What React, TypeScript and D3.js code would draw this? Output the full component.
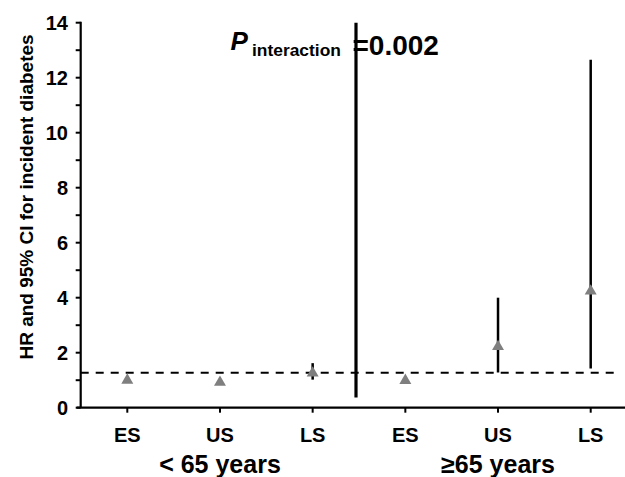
import React from "react";
import * as d3 from "d3";

const categories = ["ES", "US", "LS", "ES", "US", "LS"];
const groups = ["< 65 years", "≥65 years"];
const hr = [1.0, 0.92, 1.26, 0.99, 2.22, 4.24];
const ciLower = [0.95, 0.88, 1.02, 0.94, 1.28, 1.43];
const ciUpper = [1.05, 0.97, 1.62, 1.04, 4.0, 12.65];
const refLine = 1.27;
const yTicks = [0, 2, 4, 6, 8, 10, 12, 14];
const yMinorTicks = [1, 3, 5, 7, 9, 11, 13];
const separatorRange = [0.37, 14];

const W = 625;
const H = 477;
const FONT = "'Liberation Sans', Arial, Helvetica, sans-serif";

export default function App() {
  const idx = categories.map((_, i) => i);
  const x = d3.scalePoint<number>().domain(idx).range([127.3, 590.7]);
  const y = d3.scaleLinear().domain([0, 14]).range([407.7, 22.7]);
  const axisX = 80.7;
  const sepX = ((x(2) as number) + (x(3) as number)) / 2 - 3;
  const tri = d3.symbol().type(d3.symbolTriangle).size(62)();

  return (
    <svg width={W} height={H} style={{ position: "absolute", left: 0, top: 0, background: "#fff" }} fontFamily={FONT}>
      {/* reference dashed line */}
      <line x1={axisX} x2={620} y1={y(refLine)} y2={y(refLine)} stroke="#000" strokeWidth={2} strokeDasharray="8,7" />

      {/* y axis */}
      <line x1={axisX} x2={axisX} y1={y(14) - 1} y2={y(0)} stroke="#000" strokeWidth={2.2} />
      {yTicks.map((t) => (
        <g key={"t" + t}>
          <line x1={axisX - 5} x2={axisX} y1={y(t)} y2={y(t)} stroke="#000" strokeWidth={2} />
          <text x={68} y={y(t)} dy="0.36em" textAnchor="end" fontSize={20} fontWeight="bold">
            {t}
          </text>
        </g>
      ))}
      {yMinorTicks.map((t) => (
        <line key={"m" + t} x1={axisX - 5} x2={axisX} y1={y(t)} y2={y(t)} stroke="#000" strokeWidth={2} />
      ))}
      <text
        transform={`translate(33,197) rotate(-90)`}
        textAnchor="middle"
        fontSize={19}
        fontWeight="bold"
      >
        HR and 95% CI for incident diabetes
      </text>

      {/* x axis */}
      <line x1={axisX - 4} x2={625} y1={y(0)} y2={y(0)} stroke="#000" strokeWidth={2.2} />
      {idx.map((i) => (
        <g key={"x" + i}>
          <line x1={x(i)} x2={x(i)} y1={y(0)} y2={y(0) + 5} stroke="#000" strokeWidth={2} />
          <text x={x(i)} y={441.7} textAnchor="middle" fontSize={20} fontWeight="bold">
            {categories[i]}
          </text>
        </g>
      ))}
      {groups.map((g, gi) => (
        <text key={g} x={x(gi * 3 + 1)} y={472.5} textAnchor="middle" fontSize={25} fontWeight="bold">
          {g}
        </text>
      ))}

      {/* separator */}
      <line x1={sepX} x2={sepX} y1={y(separatorRange[1])} y2={y(separatorRange[0])} stroke="#000" strokeWidth={3.2} />

      {/* CIs */}
      {idx.map((i) => (
        <line key={"ci" + i} x1={x(i)} x2={x(i)} y1={y(ciLower[i])} y2={y(ciUpper[i])} stroke="#000" strokeWidth={2.5} />
      ))}
      {/* points */}
      {idx.map((i) => (
        <path key={"p" + i} d={tri as string} transform={`translate(${x(i)},${y(hr[i])})`} fill="#7f7f7f" />
      ))}

      {/* title */}
      <text x={230.5} y={49.5} fontSize={26} fontWeight="bold" fontStyle="italic">
        P
      </text>
      <text x={252} y={56} fontSize={17.4} fontWeight="bold">
        interaction
      </text>
      <text x={352.5} y={55} fontSize={28} fontWeight="bold">
        =0.002
      </text>
    </svg>
  );
}
